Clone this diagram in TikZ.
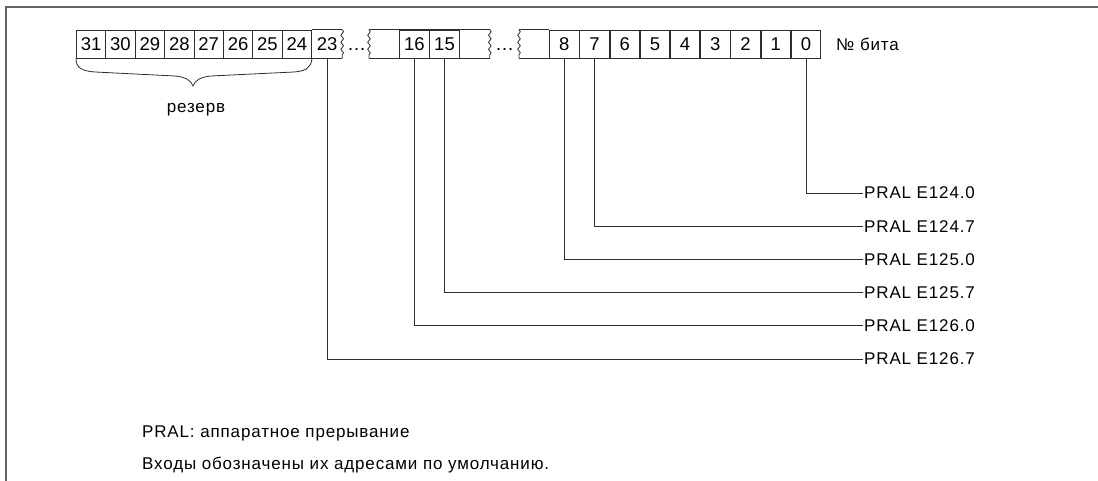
\documentclass[tikz,border=0pt]{standalone}
\usepackage{fontspec}
\setmainfont{Liberation Sans}
\newfontfamily\spaced[LetterSpace=5]{Liberation Sans}
\usetikzlibrary{positioning, decorations.pathmorphing}
\definecolor{frameGray}{RGB}{100,100,100}
\definecolor{lineDark}{RGB}{45,45,45}

\begin{document}
\begin{tikzpicture}[
  x=1pt, y=-1pt,
  node distance=0pt,
  cell/.style={draw=lineDark, line width=0.8pt, minimum width=29.4pt, minimum height=28pt, inner sep=0pt, font=\fontsize{18.5}{21}\selectfont},
  opencell/.style={cell, draw=none},
  wavy/.style={decorate, decoration={snake, amplitude=1.3pt, segment length=7pt}},
  link/.style={lineDark, line width=0.8pt},
  lbl/.style={anchor=west, inner sep=1pt, font=\spaced\fontsize{17}{20}\selectfont},
  dotsep/.style={anchor=base west, inner sep=1pt, font=\fontsize{19}{21}\selectfont},
  note/.style={anchor=west, inner sep=0pt, font=\spaced\fontsize{17}{20}\selectfont}
]
  \useasboundingbox (0,0) rectangle (1098,481);
  \draw[frameGray, line width=1.5pt] (1098,7) -- (6,7) -- (6,481);

  % reserved bits
  \foreach \b [count=\i from 0] in {31,30,...,24}
    \node[cell, anchor=west] (c\b) at ({76+29.4*\i}, 44) {\b};
  \node[opencell, right=of c24] (c23) {23};
  \draw[link] (c23.north west) -- (c23.north east) (c23.south west) -- (c23.south east);
  \draw[link, wavy] (c23.north east) -- (c23.south east);
  \node[dotsep] (dots1) at (346,51) {…};

  % middle group
  \node[opencell, anchor=west] (g2a) at (369,44) {};
  \node[cell, right=of g2a] (c16) {16};
  \node[cell, right=of c16] (c15) {15};
  \node[opencell, right=of c15] (g2b) {};
  \draw[link] (g2a.north west) -- (g2b.north east) (g2a.south west) -- (g2b.south east);
  \draw[link, wavy] (g2a.north west) -- (g2a.south west);
  \draw[link, wavy] (g2b.north east) -- (g2b.south east);
  \node[dotsep] (dots2) at (494,51) {…};

  % low bits
  \node[opencell, anchor=west] (g3a) at (519,44) {};
  \node[cell, right=of g3a] (c8) {8};
  \foreach \b [evaluate=\b as \p using int(\b+1)] in {7,6,...,0}
    \node[cell, right=of c\p] (c\b) {\b};
  \draw[link] (g3a.north west) -- (g3a.north east) (g3a.south west) -- (g3a.south east);
  \draw[link, wavy] (g3a.north west) -- (g3a.south west);
  \node[lbl, right=14pt of c0] (bitno) {№ бита};

  % brace
  \draw[link] (c31.south west) .. controls (76,68) and (82,71) .. (95,72) -- (175,76)
    .. controls (185,77) and (191,80) .. (193,86)
    .. controls (195,80) and (201,77) .. (211,76) -- (294,72)
    .. controls (306,71) and (311,68) .. (c24.south east);
  \node[lbl, anchor=center] (reserve) at (196,110) {резерв};

  % interrupt inputs
  \foreach \n/\t [count=\k from 0] in {e1240/E124.0, e1247/E124.7, e1250/E125.0, e1257/E125.7, e1260/E126.0, e1267/E126.7}
    \node[lbl] (\n) at (863, {193+33.2*\k}) {PRAL \t};
  \draw[link] (c0.south) |- (e1240.west);
  \draw[link] (c7.south) |- (e1247.west);
  \draw[link] (c8.south) |- (e1250.west);
  \draw[link] (c15.south) |- (e1257.west);
  \draw[link] (c16.south) |- (e1260.west);
  \draw[link] (c23.south) |- (e1267.west);

  % notes
  \node[note] (note1) at (142,433) {PRAL: аппаратное прерывание};
  \node[note] (note2) at (142,465) {Входы обозначены их адресами по умолчанию.};
\end{tikzpicture}
\end{document}
